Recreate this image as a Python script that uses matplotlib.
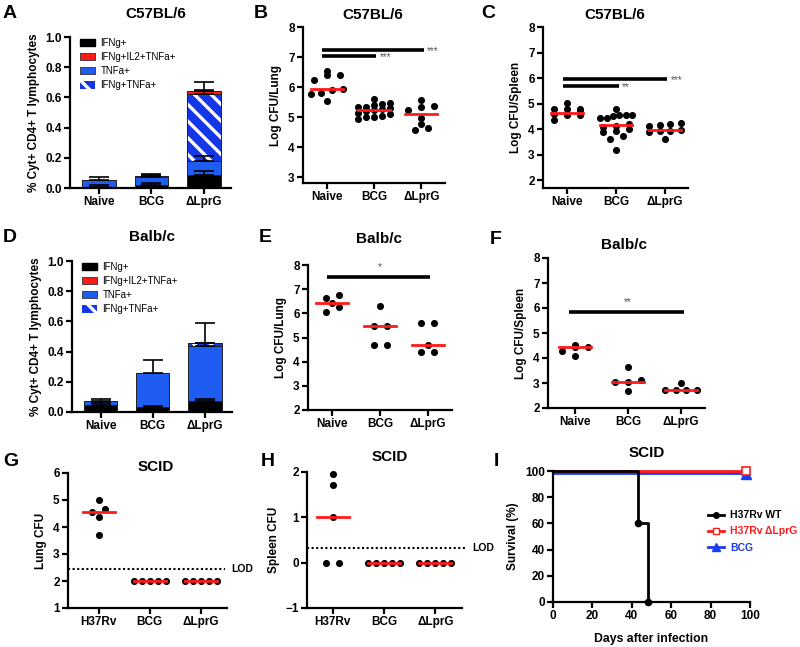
import numpy as np
import matplotlib
matplotlib.use('Agg')
import matplotlib.pyplot as plt
from matplotlib.patches import Patch
from matplotlib.lines import Line2D

plt.rcParams['font.family'] = ['Liberation Sans', 'DejaVu Sans']
plt.rcParams['font.weight'] = 'bold'
plt.rcParams['axes.labelweight'] = 'bold'
plt.rcParams['hatch.linewidth'] = 2.4

W, H = 800, 647

groups = ['Naive', 'BCG', 'ΔLprG']
scid_groups = ['H37Rv', 'BCG', 'ΔLprG']
cyt_labels = ['IFNg+', 'IFNg+IL2+TNFa+', 'TNFa+', 'IFNg+TNFa+']

# stacked segments, bottom -> top: IFNg+, TNFa+, IFNg+TNFa+, IFNg+IL2+TNFa+
c57_ifng = [0.005, 0.018, 0.085]
c57_tnfa = [0.050, 0.057, 0.095]
c57_dbl = [0.000, 0.006, 0.440]
c57_trip = [0.000, 0.000, 0.025]
c57_err = [[0.015, 0.017, 0.027],
           [0.020, 0.013, 0.035],
           [0.000, 0.014, 0.030],
           [0.000, 0.000, 0.055]]

balb_ifng = [0.045, 0.030, 0.070]
balb_tnfa = [0.025, 0.225, 0.370]
balb_dbl = [0.003, 0.002, 0.015]
balb_trip = [0.000, 0.002, 0.005]
balb_err = [[0.015, 0.010, 0.015],
            [0.015, 0.090, 0.020],
            [0.000, 0.000, 0.000],
            [0.000, 0.000, 0.130]]

c57_lung = [[6.52, 6.40, 6.40, 6.24, 5.93, 5.90, 5.80, 5.78, 5.54],
            [5.60, 5.47, 5.45, 5.40, 5.35, 5.32, 5.30, 5.27, 5.22, 5.20, 5.15, 5.10, 5.05, 5.00, 5.00, 4.95],
            [5.57, 5.37, 5.32, 5.23, 4.98, 4.78, 4.65, 4.56]]
c57_spleen = [[5.02, 4.80, 4.80, 4.78, 4.72, 4.58, 4.58, 4.56, 4.56, 4.38],
              [4.80, 4.56, 4.55, 4.55, 4.52, 4.45, 4.42, 4.20, 4.12, 4.10, 4.00, 3.95, 3.90, 3.75, 3.60, 3.20],
              [4.25, 4.20, 4.15, 4.12, 3.97, 3.95, 3.93, 3.90, 3.60]]
balb_lung = [[6.75, 6.65, 6.42, 6.25, 6.05],
             [6.30, 5.48, 5.48, 4.70, 4.70],
             [5.60, 5.58, 4.70, 4.40, 4.40]]
balb_spleen = [[4.51, 4.44, 4.43, 4.27, 4.07],
               [3.64, 3.10, 3.04, 3.03, 2.69],
               [3.00, 2.70, 2.70, 2.70, 2.70]]
scid_lung = [[5.01, 4.67, 4.57, 4.36, 3.70],
             [2.0, 2.0, 2.0, 2.0, 2.0],
             [2.0, 2.0, 2.0, 2.0, 2.0]]
scid_spleen = [[1.96, 1.71, 1.00, 0.00, 0.00],
               [0.0, 0.0, 0.0, 0.0, 0.0],
               [0.0, 0.0, 0.0, 0.0, 0.0]]
lung_lod = 2.44
spleen_lod = 0.32

# significance: (group a, group b, height, stars)
c57_lung_sig = [(0, 2, 7.25, '***'), (0, 1, 7.05, '***')]
c57_spleen_sig = [(0, 2, 5.96, '***'), (0, 1, 5.70, '**')]
balb_lung_sig = [(0, 2, 7.52, '*')]
balb_spleen_sig = [(0, 2, 5.83, '**')]

surv_labels = ['H37Rv WT', 'H37Rv ΔLprG', 'BCG']
wt_days = [0, 43, 48]
wt_surv = [100, 60, 0]
ko_days = [0, 98]
ko_surv = [100, 100]
bcg_days = [0, 98]
bcg_surv = [100, 100]

BLUE = '#1f5cf2'
HBLUE = '#1536e6'
RED = '#ff1a1a'

fig = plt.figure(figsize=(W / 100, H / 100), dpi=100)


def px_axes(x0, y0, x1, y1):
    return fig.add_axes([x0 / W, 1 - y1 / H, (x1 - x0) / W, (y1 - y0) / H])


def style(ax):
    for s in ['top', 'right']:
        ax.spines[s].set_visible(False)
    for s in ['left', 'bottom']:
        ax.spines[s].set_linewidth(1.6)
    ax.tick_params(width=1.6, length=4, labelsize=8.5, pad=2)


def ftext(x, y, s, **kw):
    fig.text(x / W, 1 - y / H, s, ha='center', va='center', **kw)


def bar_panel(ax, segs, errs):
    x = np.arange(3)
    cols = ['black', BLUE, HBLUE, RED]
    bottom = np.zeros(3)
    for k in range(4):
        h = np.array(segs[k])
        e = np.array(errs[k])
        if k == 2:
            ax.bar(x, h, 0.64, bottom=bottom, color=HBLUE, edgecolor='white', hatch='\\\\', lw=0, zorder=2)
            ax.bar(x, h, 0.64, bottom=bottom, fill=False, edgecolor='#202020', lw=0.7, zorder=2)
        else:
            ax.bar(x, h, 0.64, bottom=bottom, color=cols[k], edgecolor='#202020', lw=0.7, zorder=2)
        top = bottom + h
        m = e > 0
        ax.errorbar(x[m], top[m], yerr=[np.zeros(m.sum()), e[m]], fmt='none', ecolor='black',
                    elinewidth=1.2, capsize=7, capthick=1.2, zorder=3)
        bottom = top
    ax.set_xlim(-0.55, 2.52)
    ax.set_ylim(0, 1.0)
    ax.set_yticks([0, 0.2, 0.4, 0.6, 0.8, 1.0])
    ax.set_yticklabels(['%.1f' % v for v in [0, 0.2, 0.4, 0.6, 0.8, 1.0]])
    ax.set_xticks(x)
    ax.set_xticklabels(groups)
    ax.set_ylabel('% Cyt+ CD4+ T lymphocytes', fontsize=8.5)
    style(ax)
    handles = [Patch(fc='black', ec='black'), Patch(fc=RED, ec='#303030', lw=0.6),
               Patch(fc=BLUE, ec='#303030', lw=0.6), Patch(fc=HBLUE, ec='white', hatch='\\\\', lw=0)]
    ax.legend(handles, cyt_labels, loc='upper left', bbox_to_anchor=(0.02, 1.04), frameon=False,
              prop={'size': 7, 'weight': 'normal'}, handlelength=1.5, handleheight=0.85,
              labelspacing=0.42, handletextpad=0.6, borderpad=0.2)


def swarm(ax, ys, dv=5.0, span=32.0, maxgap=13.0):
    # GraphPad-like rows: values within dv pixels share a row, spread evenly
    py = np.array([ax.transData.transform((0, y))[1] for y in ys])
    order = np.argsort(py, kind='stable')
    rows, cur, start = [], [order[0]], py[order[0]]
    for i in order[1:]:
        if py[i] - start < dv:
            cur.append(i)
        else:
            rows.append(cur)
            cur, start = [i], py[i]
    rows.append(cur)
    offs = np.zeros(len(ys))
    for r in rows:
        n = len(r)
        if n > 1:
            gap = min(maxgap, span / (n - 1))
            for k, i in enumerate(r):
                offs[i] = (k - (n - 1) / 2) * gap
    return offs


def dot_panel(ax, data, labels, xlim, ylim, yticks, ylabel):
    ax.set_xlim(xlim)
    ax.set_ylim(ylim)
    ppu = ax.transData.transform((1, 0))[0] - ax.transData.transform((0, 0))[0]
    hw = 16 / ppu
    for i, vals in enumerate(data):
        offs = swarm(ax, vals) / ppu
        ax.scatter(i + offs, vals, s=26, color='black', lw=0, zorder=3, clip_on=False)
        med = np.median(vals)
        ax.plot([i - hw, i + hw], [med, med], color=RED, lw=2, zorder=4)
    ax.set_xticks(range(3))
    ax.set_xticklabels(labels)
    ax.set_yticks(yticks)
    ax.set_ylabel(ylabel, fontsize=8.5)
    style(ax)


def sig(ax, items, centered=False):
    for a, b, y, stars in items:
        ax.plot([a - 0.1, b + 0.05], [y, y], color='black', lw=2.6, solid_capstyle='butt', clip_on=False)
        if centered:
            ax.text((a + b) / 2, y + 0.2, stars, ha='center', va='bottom', fontsize=7,
                    color='#555555', fontweight='normal')
        else:
            ax.text(b + 0.12, y - 0.05, stars, ha='left', va='center', fontsize=7,
                    color='#555555', fontweight='normal')


def lod(ax, y, xr):
    ax.plot([ax.get_xlim()[0], xr], [y, y], color='black', lw=1.5, ls=(0, (1, 1.2)), clip_on=False)
    ax.text(xr + 0.12, y, 'LOD', ha='left', va='center', fontsize=7.5)


# A
axA = px_axes(70, 37, 231, 188)
bar_panel(axA, [c57_ifng, c57_tnfa, c57_dbl, c57_trip], c57_err)
# D
axD = px_axes(72, 261, 232, 412)
bar_panel(axD, [balb_ifng, balb_tnfa, balb_dbl, balb_trip], balb_err)

# B
axB = px_axes(303, 27, 445, 183)
dot_panel(axB, c57_lung, groups, (-0.5, 2.5), (2.8, 8), range(3, 9), 'Log CFU/Lung')
sig(axB, c57_lung_sig)
# C
axC = px_axes(543, 27, 688, 188)
dot_panel(axC, c57_spleen, groups, (-0.5, 2.47), (1.7, 8), range(2, 9), 'Log CFU/Spleen')
sig(axC, c57_spleen_sig)
# E
axE = px_axes(308, 265, 452, 410)
dot_panel(axE, balb_lung, groups, (-0.5, 2.5), (2, 8), range(2, 9), 'Log CFU/Lung')
sig(axE, balb_lung_sig, centered=True)
# F
axF = px_axes(548, 258, 705, 408)
dot_panel(axF, balb_spleen, groups, (-0.5, 2.45), (2, 8), range(2, 9), 'Log CFU/Spleen')
sig(axF, balb_spleen_sig, centered=True)
# G
axG = px_axes(68, 473, 227, 608)
dot_panel(axG, scid_lung, scid_groups, (-0.6, 2.52), (1, 6), range(1, 7), 'Lung CFU')
lod(axG, lung_lod, 2.48)
# H
axH = px_axes(307, 472, 462, 608)
dot_panel(axH, scid_spleen, scid_groups, (-0.5, 2.52), (-1, 2), range(-1, 3), 'Spleen CFU')
lod(axH, spleen_lod, 2.6)

# I
axI = px_axes(553, 471, 750, 602)
axI.plot(bcg_days, np.array(bcg_surv) - 1.8, color='#1a3cf0', lw=2, clip_on=False, zorder=2)
axI.plot(bcg_days[-1:], np.array(bcg_surv[-1:]) - 2.5, marker='^', color='#1a3cf0', ms=7, clip_on=False, zorder=3)
axI.plot(ko_days, ko_surv, color=RED, lw=2, clip_on=False, zorder=2)
axI.plot(ko_days[-1:], ko_surv[-1:], marker='s', mfc='white', mec=RED, mew=1.2, ms=6, clip_on=False, zorder=3)
axI.step(wt_days, wt_surv, where='post', color='black', lw=2, clip_on=False, zorder=4)
axI.plot(wt_days[1:], wt_surv[1:], 'o', color='black', ms=4.5, clip_on=False, zorder=5)
axI.set_xlim(0, 100)
axI.set_ylim(0, 100)
axI.set_xticks(range(0, 101, 20))
axI.set_yticks(range(0, 101, 20))
axI.set_xlabel('Days after infection', fontsize=8.8, labelpad=8)
axI.set_ylabel('Survival (%)', fontsize=8.5)
style(axI)
hI = [Line2D([], [], color='black', lw=2, marker='o', ms=4),
      Line2D([], [], color=RED, lw=2, marker='s', mfc='white', mec=RED, ms=5),
      Line2D([], [], color='#1a3cf0', lw=2, marker='^', ms=6)]
legI = axI.legend(hI, surv_labels, loc='upper left', bbox_to_anchor=(703 / W, 1 - 505 / H),
                  bbox_transform=fig.transFigure, frameon=False, fontsize=7.5,
                  handlelength=1.5, labelspacing=0.6, handletextpad=0.6, borderpad=0)
for t, c in zip(legI.get_texts(), ['black', RED, '#1a3cf0']):
    t.set_color(c)

# titles and panel letters
for x, y, s in [(156, 14, 'C57BL/6'), (373, 15, 'C57BL/6'), (615, 15, 'C57BL/6'),
                (152, 237, 'Balb/c'), (379, 239, 'Balb/c'), (624, 245, 'Balb/c'),
                (156, 467, 'SCID'), (390, 457, 'SCID'), (647, 453, 'SCID')]:
    ftext(x, y, s, fontsize=11)
for x, y, s in [(10, 13, 'A'), (261, 13, 'B'), (488, 13, 'C'),
                (10, 237, 'D'), (265, 238, 'E'), (496, 240, 'F'),
                (11, 461, 'G'), (268, 462, 'H'), (496, 462, 'I')]:
    ftext(x, y, s, fontsize=14)

fig.savefig('out.png', dpi=100)
